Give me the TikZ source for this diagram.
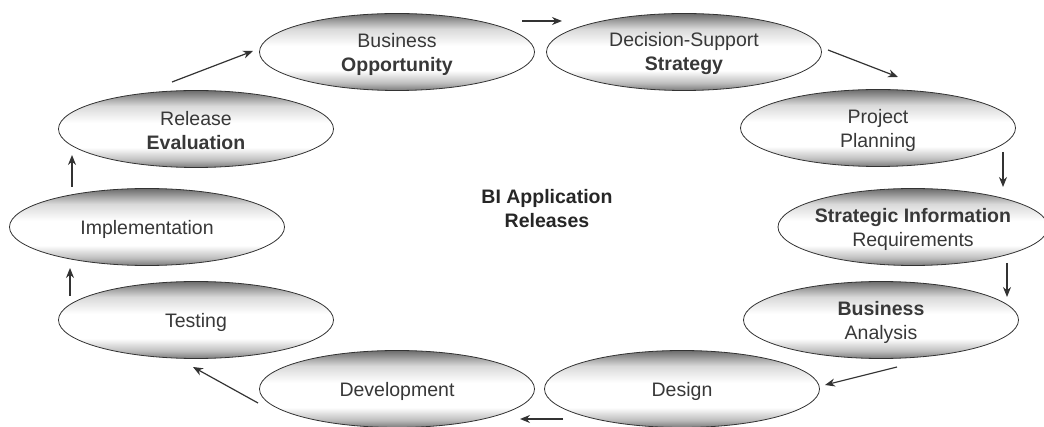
\documentclass[tikz,border=0pt]{standalone}
\usepackage{fontspec}
\setmainfont{Liberation Sans}
\usetikzlibrary{shapes.geometric,arrows.meta}
\pgfdeclareverticalshading{ellshade}{100bp}{color(0bp)=(black!52); color(25bp)=(black!52); color(30bp)=(black!25); color(38bp)=(white); color(54bp)=(white); color(65bp)=(black!15); color(75bp)=(black!58); color(100bp)=(black!58)}
\tikzset{
  stage/.style={ellipse, draw=black!80, line width=0.8pt, shading=ellshade, minimum width=275pt, minimum height=77pt, inner sep=0pt},
  lbl/.style={align=center, text=black!78, yshift=-2pt, font=\fontsize{19.5}{24}\selectfont},
  flow/.style={draw=black!80, line width=1.2pt, -{Stealth[length=10pt,width=8pt]}}
}
\begin{document}
\begin{tikzpicture}[x=1pt,y=-1pt]
\useasboundingbox (0,0) rectangle (1044,427);
\begin{scope}
\clip (0,0) rectangle (1044,427);
\node[stage, label={[lbl]center:Business\\\textbf{Opportunity}}] (opp) at (397,52) {};
\node[stage, label={[lbl]center:Decision-Support\\\textbf{Strategy}}] (dss) at (684,52) {};
\node[stage, label={[lbl]center:Project\\Planning}] (pp) at (878,128) {};
\node[stage, minimum width=270pt, label={[lbl]center:\textbf{Strategic Information}\\Requirements}] (sir) at (913,227) {};
\node[stage, label={[lbl]center:\textbf{Business}\\Analysis}] (ba) at (881,320) {};
\node[stage, label={[lbl]center:Design}] (des) at (682,389) {};
\node[stage, label={[lbl]center:Development}] (dev) at (397,389) {};
\node[stage, label={[lbl]center:Testing}] (test) at (196,320) {};
\node[stage, label={[lbl]center:Implementation}] (impl) at (147,227) {};
\node[stage, label={[lbl]center:Release\\\textbf{Evaluation}}] (rel) at (196,129) {};
\end{scope}
\node[lbl, text=black!85, font=\fontsize{19.5}{24}\selectfont\bfseries] (title) at (547,207) {BI Application\\Releases};
\coordinate (a1s) at (172,82);   \coordinate (a1e) at (253,51);
\coordinate (a2s) at (522,21);   \coordinate (a2e) at (562,21);
\coordinate (a3s) at (828,50);   \coordinate (a3e) at (898,77);
\coordinate (a4s) at (1003,152); \coordinate (a4e) at (1003,187);
\coordinate (a5s) at (1007,263); \coordinate (a5e) at (1007,297);
\coordinate (a6s) at (897,367);  \coordinate (a6e) at (825,385);
\coordinate (a7s) at (563,419);  \coordinate (a7e) at (520,419);
\coordinate (a8s) at (258,403);  \coordinate (a8e) at (193,367);
\coordinate (a9s) at (70,296);   \coordinate (a9e) at (70,268);
\coordinate (a10s) at (72,187);  \coordinate (a10e) at (72,155);
\draw[flow] (a1s) -- (a1e);
\draw[flow] (a2s) -- (a2e);
\draw[flow] (a3s) -- (a3e);
\draw[flow] (a4s) -- (a4e);
\draw[flow] (a5s) -- (a5e);
\draw[flow] (a6s) -- (a6e);
\draw[flow] (a7s) -- (a7e);
\draw[flow] (a8s) -- (a8e);
\draw[flow] (a9s) -- (a9e);
\draw[flow] (a10s) -- (a10e);
\end{tikzpicture}
\end{document}
